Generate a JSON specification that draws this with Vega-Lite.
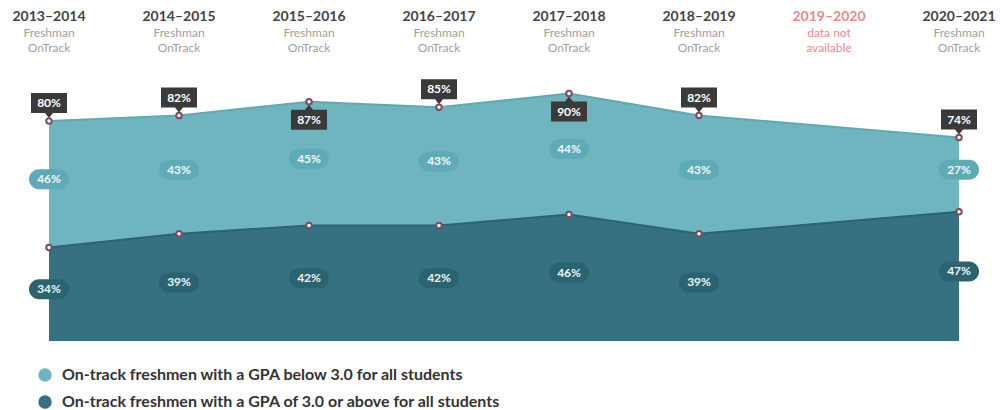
{
  "$schema": "https://vega.github.io/schema/vega-lite/v6.json",
  "width": 910,
  "height": 275,
  "autosize": {"type": "none"},
  "padding": {"left": 49, "top": 66, "right": 41, "bottom": 69},
  "background": "white",
  "config": {"view": {"stroke": null}, "font": "Lato"},
  "datasets": {
    "d": [
      {"i": 0, "year": "2013–2014", "above": 34, "below": 46, "total": 80},
      {"i": 1, "year": "2014–2015", "above": 39, "below": 43, "total": 82},
      {"i": 2, "year": "2015–2016", "above": 42, "below": 45, "total": 87},
      {"i": 3, "year": "2016–2017", "above": 42, "below": 43, "total": 85},
      {"i": 4, "year": "2017–2018", "above": 46, "below": 44, "total": 90},
      {"i": 5, "year": "2018–2019", "above": 39, "below": 43, "total": 82},
      {"i": 7, "year": "2020–2021", "above": 47, "below": 27, "total": 74}
    ],
    "h": [
      {"i": 0, "year": "2013–2014", "l1": "Freshman", "l2": "OnTrack"},
      {"i": 1, "year": "2014–2015", "l1": "Freshman", "l2": "OnTrack"},
      {"i": 2, "year": "2015–2016", "l1": "Freshman", "l2": "OnTrack"},
      {"i": 3, "year": "2016–2017", "l1": "Freshman", "l2": "OnTrack"},
      {"i": 4, "year": "2017–2018", "l1": "Freshman", "l2": "OnTrack"},
      {"i": 5, "year": "2018–2019", "l1": "Freshman", "l2": "OnTrack"},
      {"i": 6, "year": "2019–2020", "l1": "data not", "l2": "available"},
      {"i": 7, "year": "2020–2021", "l1": "Freshman", "l2": "OnTrack"}
    ]
  },
  "resolve": {"scale": {"y": "independent"}},
  "layer": [
    {
      "data": {"name": "d"},
      "encoding": {
        "x": {"field": "i", "type": "quantitative", "scale": {"domain": [0, 7], "nice": false, "zero": false}, "axis": null}
      },
      "layer": [
        {
          "mark": {"type": "area", "opacity": 1},
          "encoding": {
            "y": {"field": "total", "type": "quantitative", "scale": {"domain": [0, 100], "nice": false}, "axis": null},
            "y2": {"field": "above"},
            "color": {
              "datum": "below", "type": "nominal",
              "scale": {"domain": ["below", "above"], "range": ["#6fb5bf", "#357180"]},
              "legend": {
                "orient": "none", "legendX": -12, "legendY": 301, "padding": 0,
                "direction": "vertical", "title": null,
                "symbolType": "circle", "symbolSize": 180, "symbolOpacity": 1, "symbolStrokeWidth": 0,
                "labelFont": "Lato", "labelFontSize": 16, "labelFontWeight": "bold", "labelColor": "#333333",
                "rowPadding": 11, "labelOffset": 9, "labelLimit": 700,
                "labelExpr": "datum.value == 'below' ? 'On-track freshmen with a GPA below 3.0 for all students' : 'On-track freshmen with a GPA of 3.0 or above for all students'"
              }
            }
          }
        },
        {
          "mark": {"type": "area", "opacity": 1},
          "encoding": {
            "y": {"field": "above", "type": "quantitative"},
            "color": {"datum": "above", "type": "nominal"}
          }
        },
        {
          "mark": {"type": "line", "color": "#5fa9b4", "strokeWidth": 2},
          "encoding": {"y": {"field": "total", "type": "quantitative"}}
        },
        {
          "mark": {"type": "line", "color": "#2c6471", "strokeWidth": 2},
          "encoding": {"y": {"field": "above", "type": "quantitative"}}
        },
        {
          "transform": [{"filter": "datum.i != 2 && datum.i != 4"}],
          "mark": {"type": "point", "shape": "M-18,-28H18V-8H4L0,-3L-4,-8H-18Z", "size": 4, "filled": true, "color": "#3a3a3a", "opacity": 1},
          "encoding": {"y": {"field": "total", "type": "quantitative"}}
        },
        {
          "transform": [{"filter": "datum.i == 2 || datum.i == 4"}],
          "mark": {"type": "point", "shape": "M-18,8H-4L0,3L4,8H18V28H-18Z", "size": 4, "filled": true, "color": "#3a3a3a", "opacity": 1},
          "encoding": {"y": {"field": "total", "type": "quantitative"}}
        },
        {
          "mark": {"type": "point", "filled": true, "fill": "white", "stroke": "#7b4b61", "strokeWidth": 2, "size": 30, "opacity": 1},
          "encoding": {"y": {"field": "total", "type": "quantitative"}}
        },
        {
          "mark": {"type": "point", "filled": true, "fill": "white", "stroke": "#7b4b61", "strokeWidth": 2, "size": 30, "opacity": 1},
          "encoding": {"y": {"field": "above", "type": "quantitative"}}
        },
        {
          "transform": [{"filter": "datum.i != 2 && datum.i != 4"}],
          "mark": {"type": "text", "color": "white", "fontWeight": "bold", "fontSize": 12, "baseline": "middle", "align": "center", "dy": -18, "text": {"expr": "datum.total + '%'"}},
          "encoding": {"y": {"field": "total", "type": "quantitative"}}
        },
        {
          "transform": [{"filter": "datum.i == 2 || datum.i == 4"}],
          "mark": {"type": "text", "color": "white", "fontWeight": "bold", "fontSize": 12, "baseline": "middle", "align": "center", "dy": 18, "text": {"expr": "datum.total + '%'"}},
          "encoding": {"y": {"field": "total", "type": "quantitative"}}
        },
        {
          "transform": [
            {"fold": ["total", "above"], "as": ["k", "v"]},
            {"aggregate": [{"op": "mean", "field": "v", "as": "mid"}], "groupby": ["i", "below"]}
          ],
          "encoding": {"y": {"field": "mid", "type": "quantitative"}},
          "layer": [
            {"mark": {"type": "point", "shape": "M-10,-15H10A10,10,0,0,1,10,5H-10A10,10,0,0,1,-10,-15Z", "size": 4, "filled": true, "color": "#5eaab6", "opacity": 1}},
            {"mark": {"type": "text", "color": "#f2f8f9", "fontWeight": "bold", "fontSize": 12, "baseline": "middle", "align": "center", "dy": -5, "text": {"expr": "datum.below + '%'"}}}
          ]
        },
        {
          "data": {"name": "h"},
          "layer": [
            {
              "mark": {"type": "text", "fontWeight": "bold", "fontSize": 14, "baseline": "middle", "align": "center"},
              "encoding": {
                "y": {"datum": 117.8, "type": "quantitative"},
                "text": {"field": "year"},
                "color": {"condition": {"test": "datum.i == 6", "value": "#e58a8c"}, "value": "#444444"}
              }
            },
            {
              "mark": {"type": "text", "fontSize": 12, "baseline": "middle", "align": "center"},
              "encoding": {
                "y": {"datum": 112, "type": "quantitative"},
                "text": {"field": "l1"},
                "color": {"condition": {"test": "datum.i == 6", "value": "#e58a8c"}, "value": "#9f9f9f"}
              }
            },
            {
              "mark": {"type": "text", "fontSize": 12, "baseline": "middle", "align": "center"},
              "encoding": {
                "y": {"datum": 106.5, "type": "quantitative"},
                "text": {"field": "l2"},
                "color": {"condition": {"test": "datum.i == 6", "value": "#e58a8c"}, "value": "#9f9f9f"}
              }
            }
          ]
        }
      ]
    },
    {
      "data": {"name": "d"},
      "encoding": {
        "x": {"field": "i", "type": "quantitative", "scale": {"domain": [0, 7], "nice": false, "zero": false}, "axis": null},
        "y": {"field": "above", "type": "quantitative", "scale": {"domain": [0, 200], "nice": false}, "axis": null}
      },
      "layer": [
        {"mark": {"type": "point", "shape": "M-10,-15H10A10,10,0,0,1,10,5H-10A10,10,0,0,1,-10,-15Z", "size": 4, "filled": true, "color": "#2c6370", "opacity": 1}},
        {"mark": {"type": "text", "color": "#eef5f6", "fontWeight": "bold", "fontSize": 12, "baseline": "middle", "align": "center", "dy": -5, "text": {"expr": "datum.above + '%'"}}}
      ]
    }
  ]
}
